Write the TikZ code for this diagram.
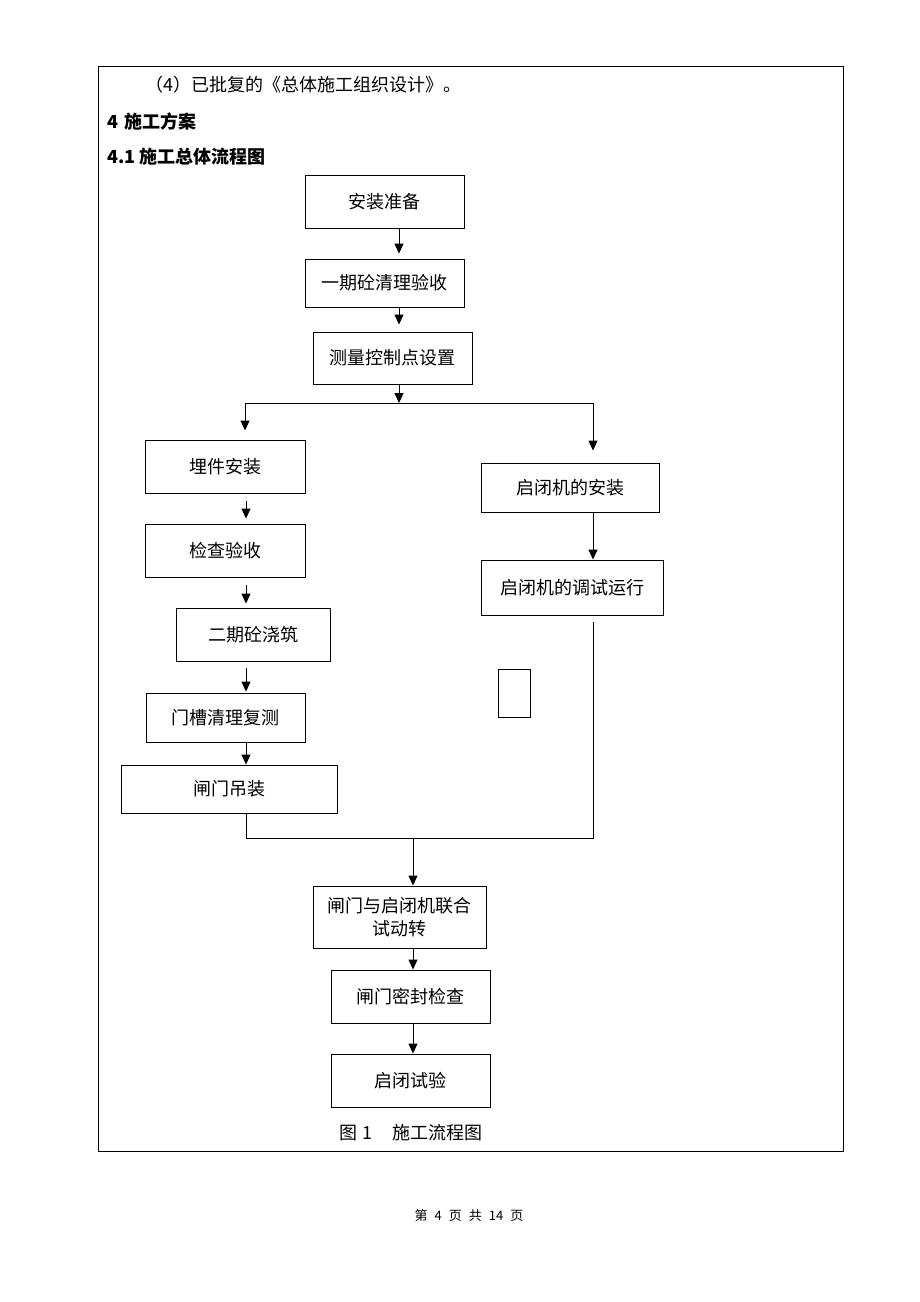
\documentclass[tikz,border=0pt]{standalone}
\usepackage{fontspec}
\setmainfont{Noto Sans CJK SC}
\usetikzlibrary{arrows.meta}
\begin{document}
\begin{tikzpicture}[x=1pt,y=-1pt,
  box/.style={draw, line width=0.9pt, inner sep=0pt, align=center, font=\fontsize{18}{23}\selectfont},
  arr/.style={-{Triangle[length=10pt,width=9pt]}, line width=0.9pt},
  ln/.style={line width=0.9pt},
  txt/.style={inner sep=0pt, anchor=west, font=\fontsize{18}{20}\selectfont}]
\useasboundingbox (0,0) rectangle (920,1302);
\fill[white] (0,0) rectangle (920,1302);
% page frame
\node[draw, line width=0.8pt, minimum width=745pt, minimum height=1085pt, inner sep=0pt] (frame) at (470.5,608.5) {};
% header text
\node[txt] (t1) at (145,85) {（4）已批复的《总体施工组织设计》。};
\node[txt, font=\fontsize{18}{20}\selectfont\bfseries] (t2) at (107,122) {4\hspace{6pt}施工方案};
\node[txt, font=\fontsize{18}{20}\selectfont\bfseries] (t3) at (107,157) {4.1\hspace{4pt}施工总体流程图};
% column coordinates
\coordinate (colA) at (399,0);
\coordinate (colL) at (246,0);
\coordinate (colR) at (593,0);
\coordinate (colM) at (413,0);
% boxes
\node[box, minimum width=159pt, minimum height=53pt] (a1) at (384.5,201.5) {安装准备};
\node[box, minimum width=159pt, minimum height=48pt] (a2) at (384.5,283) {一期砼清理验收};
\node[box, minimum width=159pt, minimum height=52pt] (a3) at (392.5,358) {测量控制点设置};
\node[box, minimum width=160pt, minimum height=53pt] (m1) at (225,466.5) {埋件安装};
\node[box, minimum width=160pt, minimum height=53pt] (m2) at (225,550.5) {检查验收};
\node[box, minimum width=154pt, minimum height=53pt] (m3) at (253,634.5) {二期砼浇筑};
\node[box, minimum width=159pt, minimum height=49pt] (m4) at (225.5,717.5) {门槽清理复测};
\node[box, minimum width=216pt, minimum height=48pt] (m5) at (229,789) {闸门吊装};
\node[box, minimum width=178pt, minimum height=49pt] (r1) at (570,487.5) {启闭机的安装};
\node[box, minimum width=182pt, minimum height=55pt] (r2) at (572.5,587.5) {启闭机的调试运行};
\node[box, minimum width=32pt, minimum height=48pt] (sq) at (514,693) {};
\node[box, minimum width=173pt, minimum height=62pt] (b1) at (399.5,917) {闸门与启闭机联合\\试动转};
\node[box, minimum width=159pt, minimum height=53pt] (b2) at (410.5,996.5) {闸门密封检查};
\node[box, minimum width=159pt, minimum height=53pt] (b3) at (410.5,1080.5) {启闭试验};
% branch points
\coordinate (brC) at (399,403);
\coordinate (brL) at (245,403);
\coordinate (brR) at (593,403);
\coordinate (join) at (413,838);
% top column
\draw[arr, shorten >=5pt] (a1.south -| colA) -- (a2.north -| colA);
\draw[arr, shorten >=7pt] (a2.south -| colA) -- (a3.north -| colA);
\draw[arr] (a3.south -| colA) -- (brC);
\draw[ln] (brL) -- (brR);
\draw[arr, shorten >=9pt] (brL) -- (m1.north -| brL);
\draw[arr, shorten >=12pt] (brR) -- (r1.north -| brR);
% left column
\draw[arr, shorten <=8pt, shorten >=5pt] (m1.south -| colL) -- (m2.north -| colL);
\draw[arr, shorten <=8pt, shorten >=4pt] (m2.south -| colL) -- (m3.north -| colL);
\draw[arr, shorten <=7pt, shorten >=1pt] (m3.south -| colL) -- (m4.north -| colL);
\draw[arr] (m4.south -| colL) -- (m5.north -| colL);
% right column
\draw[arr] (r1.south -| colR) -- (r2.north -| colR);
% merge
\draw[ln] ([yshift=-7pt]r2.south -| colR) |- (join) -| (m5.south -| colL);
\draw[arr] (join) -- (b1.north -| colM);
\draw[arr] (b1.south -| colM) -- (b2.north -| colM);
\draw[arr] (b2.south -| colM) -- (b3.north -| colM);
% caption and footer
\node[inner sep=0pt, font=\fontsize{18}{20}\selectfont] (cap) at (411,1133) {图 1\hspace{20pt}施工流程图};
\node[inner sep=0pt, font=\fontsize{13}{14}\selectfont] (foot) at (469,1216) {第\hspace{7pt}4\hspace{7pt}页\hspace{7pt}共\hspace{7pt}14\hspace{7pt}页};
\end{tikzpicture}
\end{document}
